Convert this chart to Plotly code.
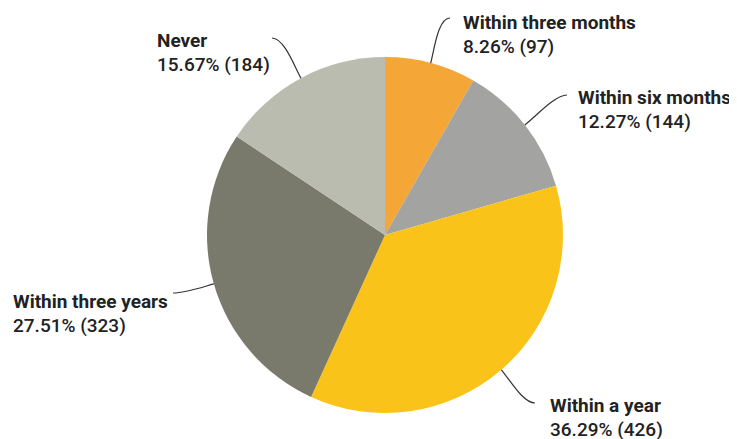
import math
import plotly.graph_objects as go

# ---- data ----
categories = ["Within three months", "Within six months", "Within a year",
              "Within three years", "Never"]
percents = [8.26, 12.27, 36.29, 27.51, 15.67]
counts = [97, 144, 426, 323, 184]
colors = ["#F4A636", "#A3A3A1", "#F9C31A", "#7A7A6C", "#BBBCB0"]

# ---- layout constants (page pixels) ----
W, H = 737, 439
OFF = 8  # default page body margin
CX, CY, R = 385, 235, 178
# label: (x, first-line baseline, xanchor, leader end near label)
label_pos = [
    (462, 29, "left", (450, 18)),
    (577, 104, "left", (567, 95)),
    (549, 412, "left", (535, 403)),
    (12, 308, "left", (173, 293)),
    (156, 47, "left", (272, 38)),
]
FS = 19
LINE_GAP = 24

fig = go.Figure()
fig.add_trace(go.Pie(
    labels=categories, values=counts, sort=False, direction="clockwise",
    rotation=0, marker=dict(colors=colors, line=dict(width=0)),
    textinfo="none", hoverinfo="label+percent+value", showlegend=False,
    domain=dict(x=[(CX - OFF - R) / W, (CX - OFF + R) / W],
                y=[(H - (CY - OFF) - R) / H, (H - (CY - OFF) + R) / H]),
))

total = sum(counts)
cum = 0
shapes, annotations = [], []
for i, (cat, pct, cnt) in enumerate(zip(categories, percents, counts)):
    a0 = cum / total * 360
    cum += cnt
    a1 = cum / total * 360
    mid = math.radians((a0 + a1) / 2)
    ux, uy = math.sin(mid), -math.cos(mid)
    px, py = CX + R * ux, CY + R * uy
    lx, base, anchor, (ex, ey) = label_pos[i]
    c1x, c1y = px + ux * 14, py + uy * 14
    hdir = 1 if ex < CX else -1
    c2x, c2y = ex + hdir * 12, ey
    shapes.append(dict(
        type="path", xref="x", yref="y",
        path=f"M {px:.1f} {py:.1f} C {c1x:.1f} {c1y:.1f} {c2x:.1f} {c2y:.1f} {ex:.1f} {ey:.1f}",
        line=dict(color="#333333", width=1.2)))
    cap = FS * 0.711
    annotations.append(dict(
        x=lx, y=base - cap / 2, xref="x", yref="y", xanchor=anchor,
        yanchor="middle", align="left", showarrow=False, borderpad=0,
        text=cat,
        font=dict(family="Roboto", size=FS, color="#222222", weight=700)))
    annotations.append(dict(
        x=lx, y=base + LINE_GAP - cap / 2, xref="x", yref="y", xanchor=anchor,
        yanchor="middle", align="left", showarrow=False, borderpad=0,
        text=f"{pct:.2f}% ({cnt})",
        font=dict(family="Roboto", size=FS, color="#222222", weight=500)))

fig.update_layout(
    width=W, height=H, margin=dict(l=0, r=0, t=0, b=0),
    paper_bgcolor="white", plot_bgcolor="rgba(0,0,0,0)",
    xaxis=dict(range=[OFF, W + OFF], visible=False, fixedrange=True),
    yaxis=dict(range=[H + OFF, OFF], visible=False, fixedrange=True),
    shapes=shapes, annotations=annotations,
)
fig.write_html("out.html")
